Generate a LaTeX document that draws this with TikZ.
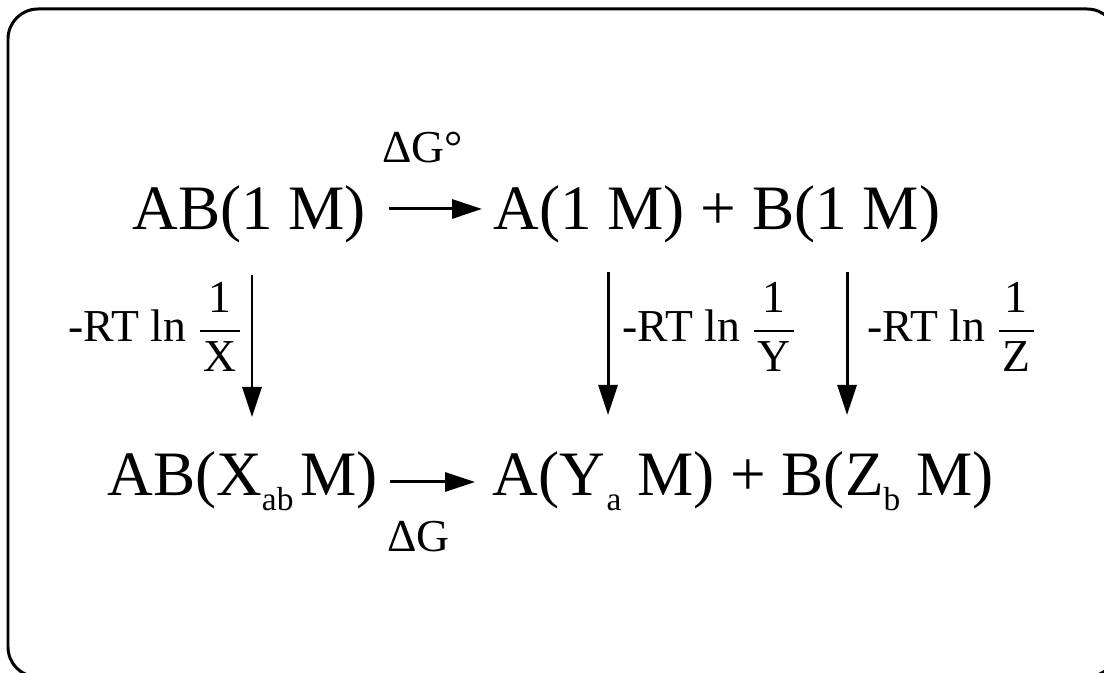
\documentclass[tikz,border=0pt]{standalone}
\usepackage{fontspec}
\usepackage{amsmath}
\setmainfont{Liberation Serif}
\usetikzlibrary{arrows.meta}

\newcommand{\lowidx}[1]{\raisebox{-8.5pt}{\fontsize{19}{20}\selectfont #1}}
\newcommand{\rtfrac}[1]{{\fontsize{26}{28}\selectfont -RT ln }$\genfrac{}{}{1.4pt}{0}{\text{1}}{\text{\hspace{2pt}#1\hspace{2pt}}}$}

\tikzset{
  species/.style={font=\fontsize{36}{42}\selectfont, inner sep=0pt},
  lbl/.style={font=\fontsize{26}{30}\selectfont, inner sep=0pt},
  arr/.style={line width=1.7pt, -{Triangle[length=0.6cm,width=0.38cm]}}
}

\begin{document}
\begin{tikzpicture}
  \useasboundingbox (0,0) rectangle (22.08,13.46);
  \clip (0,0) rectangle (22.08,13.46);
  % frame
  \draw[line width=1.7pt, rounded corners=0.6cm] (0.16,-0.08) rectangle (22.34,13.28);
  % standard state
  \node[species, anchor=base west] (ab1) at (2.64,8.86) {AB(1 M)};
  \node[species, anchor=base west] (apb1) at (9.86,8.86) {A(1 M) + B(1 M)};
  \draw[arr] ([shift={(0.46,0.42)}]ab1.base east) -- ([shift={(-0.22,0.42)}]apb1.base west);
  \node[lbl, anchor=base west] (dg0) at (7.64,10.2) {ΔG°};
  % actual concentrations
  \node[species, anchor=base west] (abx) at (2.14,3.54) {AB(X\lowidx{ab}\hspace{4pt}M)};
  \node[species, anchor=base west] (apbyz) at (9.84,3.54) {A(Y\hspace{1pt}\lowidx{a}\hspace{9pt}M) + B(Z\lowidx{b}\hspace{9pt}M)};
  \draw[arr] ([shift={(0.24,0.28)}]abx.base east) -- ([shift={(-0.34,0.28)}]apbyz.base west);
  \node[lbl, anchor=base west] (dg) at (7.74,2.42) {ΔG};
  % AB dilution
  \coordinate (xtop) at (5.04,7.96);
  \coordinate (xbot) at (5.04,5.12);
  \draw[arr] (xtop) -- (xbot);
  \node[lbl, anchor=base east] (lx) at (4.84,6.62) {\rtfrac{X}};
  % A dilution
  \coordinate (ytop) at (12.16,8.02);
  \coordinate (ybot) at (12.16,5.16);
  \draw[arr] (ytop) -- (ybot);
  \node[lbl, anchor=base west] (ly) at (12.44,6.62) {\rtfrac{Y}};
  % B dilution
  \coordinate (ztop) at (16.94,8.02);
  \coordinate (zbot) at (16.94,5.16);
  \draw[arr] (ztop) -- (zbot);
  \node[lbl, anchor=base west] (lz) at (17.34,6.62) {\rtfrac{Z}};
\end{tikzpicture}
\end{document}
